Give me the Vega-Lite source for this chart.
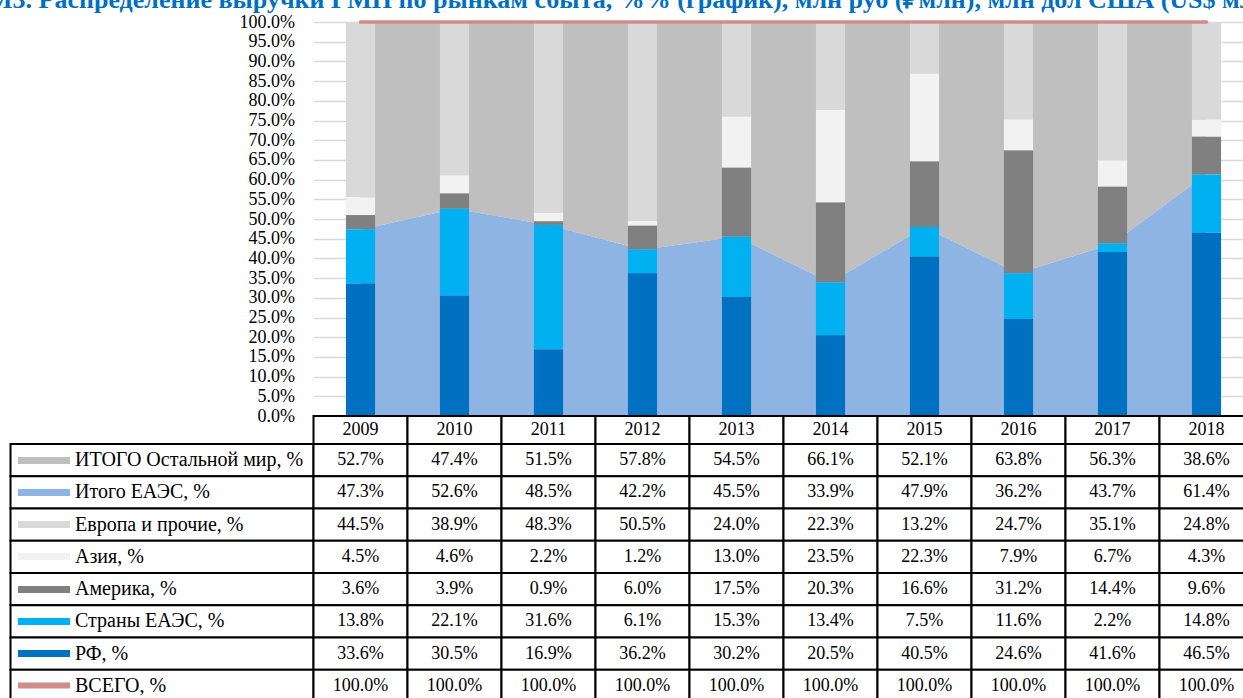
{
  "$schema": "https://vega.github.io/schema/vega-lite/v6.json",
  "padding": {"left": -12.5, "top": -13, "right": 0, "bottom": 0},
  "background": "white",
  "config": {"font": "Liberation Serif", "view": {"stroke": null}},
  "title": {"text": "М3. Распределение выручки ГМП по рынкам сбыта, %% (график), млн руб (₽млн), млн дол США (US$ млн)", "anchor": "start", "dx": -21.5, "font": "Liberation Serif", "fontSize": 26, "fontWeight": "bold", "color": "#0070C0", "offset": 0},
  "datasets": {
    "t": [
      {"series": "ИТОГО Остальной мир, %", "year": "2009", "value": 52.7},
      {"series": "ИТОГО Остальной мир, %", "year": "2010", "value": 47.4},
      {"series": "ИТОГО Остальной мир, %", "year": "2011", "value": 51.5},
      {"series": "ИТОГО Остальной мир, %", "year": "2012", "value": 57.8},
      {"series": "ИТОГО Остальной мир, %", "year": "2013", "value": 54.5},
      {"series": "ИТОГО Остальной мир, %", "year": "2014", "value": 66.1},
      {"series": "ИТОГО Остальной мир, %", "year": "2015", "value": 52.1},
      {"series": "ИТОГО Остальной мир, %", "year": "2016", "value": 63.8},
      {"series": "ИТОГО Остальной мир, %", "year": "2017", "value": 56.3},
      {"series": "ИТОГО Остальной мир, %", "year": "2018", "value": 38.6},
      {"series": "Итого ЕАЭС, %", "year": "2009", "value": 47.3},
      {"series": "Итого ЕАЭС, %", "year": "2010", "value": 52.6},
      {"series": "Итого ЕАЭС, %", "year": "2011", "value": 48.5},
      {"series": "Итого ЕАЭС, %", "year": "2012", "value": 42.2},
      {"series": "Итого ЕАЭС, %", "year": "2013", "value": 45.5},
      {"series": "Итого ЕАЭС, %", "year": "2014", "value": 33.9},
      {"series": "Итого ЕАЭС, %", "year": "2015", "value": 47.9},
      {"series": "Итого ЕАЭС, %", "year": "2016", "value": 36.2},
      {"series": "Итого ЕАЭС, %", "year": "2017", "value": 43.7},
      {"series": "Итого ЕАЭС, %", "year": "2018", "value": 61.4},
      {"series": "Европа и прочие, %", "year": "2009", "value": 44.5},
      {"series": "Европа и прочие, %", "year": "2010", "value": 38.9},
      {"series": "Европа и прочие, %", "year": "2011", "value": 48.3},
      {"series": "Европа и прочие, %", "year": "2012", "value": 50.5},
      {"series": "Европа и прочие, %", "year": "2013", "value": 24.0},
      {"series": "Европа и прочие, %", "year": "2014", "value": 22.3},
      {"series": "Европа и прочие, %", "year": "2015", "value": 13.2},
      {"series": "Европа и прочие, %", "year": "2016", "value": 24.7},
      {"series": "Европа и прочие, %", "year": "2017", "value": 35.1},
      {"series": "Европа и прочие, %", "year": "2018", "value": 24.8},
      {"series": "Азия, %", "year": "2009", "value": 4.5},
      {"series": "Азия, %", "year": "2010", "value": 4.6},
      {"series": "Азия, %", "year": "2011", "value": 2.2},
      {"series": "Азия, %", "year": "2012", "value": 1.2},
      {"series": "Азия, %", "year": "2013", "value": 13.0},
      {"series": "Азия, %", "year": "2014", "value": 23.5},
      {"series": "Азия, %", "year": "2015", "value": 22.3},
      {"series": "Азия, %", "year": "2016", "value": 7.9},
      {"series": "Азия, %", "year": "2017", "value": 6.7},
      {"series": "Азия, %", "year": "2018", "value": 4.3},
      {"series": "Америка, %", "year": "2009", "value": 3.6},
      {"series": "Америка, %", "year": "2010", "value": 3.9},
      {"series": "Америка, %", "year": "2011", "value": 0.9},
      {"series": "Америка, %", "year": "2012", "value": 6.0},
      {"series": "Америка, %", "year": "2013", "value": 17.5},
      {"series": "Америка, %", "year": "2014", "value": 20.3},
      {"series": "Америка, %", "year": "2015", "value": 16.6},
      {"series": "Америка, %", "year": "2016", "value": 31.2},
      {"series": "Америка, %", "year": "2017", "value": 14.4},
      {"series": "Америка, %", "year": "2018", "value": 9.6},
      {"series": "Страны ЕАЭС, %", "year": "2009", "value": 13.8},
      {"series": "Страны ЕАЭС, %", "year": "2010", "value": 22.1},
      {"series": "Страны ЕАЭС, %", "year": "2011", "value": 31.6},
      {"series": "Страны ЕАЭС, %", "year": "2012", "value": 6.1},
      {"series": "Страны ЕАЭС, %", "year": "2013", "value": 15.3},
      {"series": "Страны ЕАЭС, %", "year": "2014", "value": 13.4},
      {"series": "Страны ЕАЭС, %", "year": "2015", "value": 7.5},
      {"series": "Страны ЕАЭС, %", "year": "2016", "value": 11.6},
      {"series": "Страны ЕАЭС, %", "year": "2017", "value": 2.2},
      {"series": "Страны ЕАЭС, %", "year": "2018", "value": 14.8},
      {"series": "РФ, %", "year": "2009", "value": 33.6},
      {"series": "РФ, %", "year": "2010", "value": 30.5},
      {"series": "РФ, %", "year": "2011", "value": 16.9},
      {"series": "РФ, %", "year": "2012", "value": 36.2},
      {"series": "РФ, %", "year": "2013", "value": 30.2},
      {"series": "РФ, %", "year": "2014", "value": 20.5},
      {"series": "РФ, %", "year": "2015", "value": 40.5},
      {"series": "РФ, %", "year": "2016", "value": 24.6},
      {"series": "РФ, %", "year": "2017", "value": 41.6},
      {"series": "РФ, %", "year": "2018", "value": 46.5},
      {"series": "ВСЕГО, %", "year": "2009", "value": 100.0},
      {"series": "ВСЕГО, %", "year": "2010", "value": 100.0},
      {"series": "ВСЕГО, %", "year": "2011", "value": 100.0},
      {"series": "ВСЕГО, %", "year": "2012", "value": 100.0},
      {"series": "ВСЕГО, %", "year": "2013", "value": 100.0},
      {"series": "ВСЕГО, %", "year": "2014", "value": 100.0},
      {"series": "ВСЕГО, %", "year": "2015", "value": 100.0},
      {"series": "ВСЕГО, %", "year": "2016", "value": 100.0},
      {"series": "ВСЕГО, %", "year": "2017", "value": 100.0},
      {"series": "ВСЕГО, %", "year": "2018", "value": 100.0}
    ]
  },
  "columns": 2,
  "spacing": 0,
  "bounds": "flush",
  "align": "each",
  "concat": [
    {"width": 303, "height": 394, "data": {"values": []}, "mark": "point"},
    {
      "width": 940,
      "height": 394,
      "data": {"name": "t"},
      "encoding": {
        "x": {"field": "year", "type": "ordinal", "scale": {"paddingInner": 0, "paddingOuter": 0}, "axis": null}
      },
      "layer": [
        {
          "transform": [
            {"filter": "datum.series === 'Итого ЕАЭС, %' || datum.series === 'ИТОГО Остальной мир, %'"},
            {"calculate": "datum.series === 'Итого ЕАЭС, %' ? 0 : 1", "as": "k"}
          ],
          "mark": {"type": "area", "opacity": 1},
          "encoding": {
            "y": {"field": "value", "type": "quantitative", "stack": "zero",
              "scale": {"domain": [0, 100], "nice": false},
              "axis": {"values": [0,5,10,15,20,25,30,35,40,45,50,55,60,65,70,75,80,85,90,95,100],
                "labelExpr": "format(datum.value, '.1f') + '%'", "labelOverlap": false, "grid": true, "gridColor": "#D9D9D9", "gridWidth": 1.5,
                "domain": false, "ticks": false, "labelPadding": 19, "labelFont": "Liberation Serif", "labelFontSize": 18,
                "labelColor": "#000000", "title": null}},
            "color": {"field": "series", "type": "nominal",
              "scale": {"domain": ["ИТОГО Остальной мир, %", "Итого ЕАЭС, %", "Европа и прочие, %", "Азия, %", "Америка, %", "Страны ЕАЭС, %", "РФ, %", "ВСЕГО, %"],
                "range": ["#BFBFBF", "#8EB4E3", "#D9D9D9", "#F2F2F2", "#808080", "#00B0F0", "#0070C0", "#D08C8A"]},
              "legend": null},
            "order": {"field": "k", "type": "quantitative"}
          }
        },
        {
          "transform": [
            {"filter": "indexof(['РФ, %', 'Страны ЕАЭС, %', 'Америка, %', 'Азия, %', 'Европа и прочие, %'], datum.series) >= 0"},
            {"calculate": "indexof(['РФ, %', 'Страны ЕАЭС, %', 'Америка, %', 'Азия, %', 'Европа и прочие, %'], datum.series)", "as": "k"}
          ],
          "mark": {"type": "bar", "width": {"band": 0.31}},
          "encoding": {
            "y": {"field": "value", "type": "quantitative", "stack": "zero",
              "axis": {"values": [0,5,10,15,20,25,30,35,40,45,50,55,60,65,70,75,80,85,90,95,100],
                "labelExpr": "format(datum.value, '.1f') + '%'", "labelOverlap": false, "grid": true, "gridColor": "#D9D9D9", "gridWidth": 1.5,
                "domain": false, "ticks": false, "labelPadding": 19, "labelFont": "Liberation Serif", "labelFontSize": 18,
                "labelColor": "#000000", "title": null}},
            "color": {"field": "series", "type": "nominal", "legend": null},
            "order": {"field": "k", "type": "quantitative"}
          }
        },
        {
          "transform": [{"filter": "datum.series === 'ВСЕГО, %'"}],
          "mark": {"type": "line", "strokeWidth": 3.5, "strokeCap": "round"},
          "encoding": {
            "y": {"field": "value", "type": "quantitative",
              "axis": {"values": [0,5,10,15,20,25,30,35,40,45,50,55,60,65,70,75,80,85,90,95,100],
                "labelExpr": "format(datum.value, '.1f') + '%'", "labelOverlap": false, "grid": true, "gridColor": "#D9D9D9", "gridWidth": 1.5,
                "domain": false, "ticks": false, "labelPadding": 19, "labelFont": "Liberation Serif", "labelFontSize": 18,
                "labelColor": "#000000", "title": null}},
            "color": {"field": "series", "type": "nominal", "legend": null}
          }
        }
      ]
    },
    {"width": 303, "height": 28, "data": {"values": []}, "mark": "point"},
    {
      "width": 940,
      "height": 28,
      "data": {"name": "t"},
      "transform": [{"filter": "datum.series === 'ВСЕГО, %'"}],
      "encoding": {
        "x": {"field": "year", "type": "ordinal", "scale": {"paddingInner": 0, "paddingOuter": 0}, "axis": null}
      },
      "layer": [
        {"mark": {"type": "rect", "fill": "white", "stroke": "black", "strokeWidth": 2}},
        {"mark": {"type": "text", "font": "Liberation Serif", "fontSize": 18, "color": "black"}, "encoding": {"text": {"field": "year"}}}
      ]
    },
    {
      "width": 303,
      "height": 258,
      "data": {"name": "t"},
      "transform": [{"filter": "datum.year === '2009'"}],
      "mark": {"type": "rect", "fill": "white", "stroke": "black", "strokeWidth": 2},
      "encoding": {
        "y": {"field": "series", "type": "nominal",
          "scale": {"domain": ["ИТОГО Остальной мир, %", "Итого ЕАЭС, %", "Европа и прочие, %", "Азия, %", "Америка, %", "Страны ЕАЭС, %", "РФ, %", "ВСЕГО, %"], "paddingInner": 0, "paddingOuter": 0},
          "axis": {"orient": "left", "offset": -59, "domain": false, "ticks": true, "tickSize": 52,
            "tickWidth": {"condition": {"test": "datum.value === 'ВСЕГО, %'", "value": 6}, "value": 7},
            "tickColor": {"condition": [
              {"test": "datum.value === 'ИТОГО Остальной мир, %'", "value": "#BFBFBF"},
              {"test": "datum.value === 'Итого ЕАЭС, %'", "value": "#8EB4E3"},
              {"test": "datum.value === 'Европа и прочие, %'", "value": "#D9D9D9"},
              {"test": "datum.value === 'Азия, %'", "value": "#F2F2F2"},
              {"test": "datum.value === 'Америка, %'", "value": "#808080"},
              {"test": "datum.value === 'Страны ЕАЭС, %'", "value": "#00B0F0"},
              {"test": "datum.value === 'РФ, %'", "value": "#0070C0"}
            ], "value": "#D08C8A"},
            "labelAlign": "left", "labelPadding": -57, "labelFont": "Liberation Serif", "labelFontSize": 20,
            "labelColor": "black", "labelLimit": 0, "title": null, "zindex": 1}
        }
      }
    },
    {
      "width": 940,
      "height": 258,
      "data": {"name": "t"},
      "transform": [{"calculate": "format(datum.value, '.1f') + '%'", "as": "label"}],
      "encoding": {
        "x": {"field": "year", "type": "ordinal", "scale": {"paddingInner": 0, "paddingOuter": 0}, "axis": null},
        "y": {"field": "series", "type": "nominal",
          "scale": {"domain": ["ИТОГО Остальной мир, %", "Итого ЕАЭС, %", "Европа и прочие, %", "Азия, %", "Америка, %", "Страны ЕАЭС, %", "РФ, %", "ВСЕГО, %"], "paddingInner": 0, "paddingOuter": 0},
          "axis": null}
      },
      "layer": [
        {"mark": {"type": "rect", "fill": "white", "stroke": "black", "strokeWidth": 2}},
        {"mark": {"type": "text", "font": "Liberation Serif", "fontSize": 18, "color": "black"}, "encoding": {"text": {"field": "label"}}}
      ]
    }
  ]
}
